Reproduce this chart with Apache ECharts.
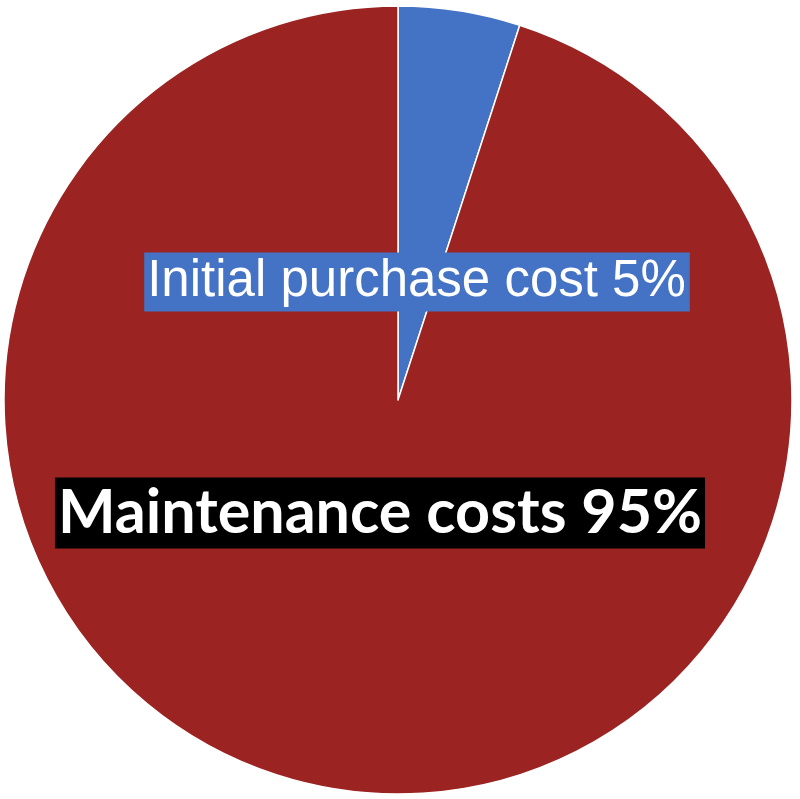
<!DOCTYPE html>
<html><head><meta charset="utf-8">
<script src="https://cdn.jsdelivr.net/npm/echarts@6/dist/echarts.min.js"></script>
<style>html,body{margin:0;padding:0;background:#fff}#c{width:800px;height:799px}</style>
</head><body><div id="c"></div>
<script>
const categories = ['Initial purchase cost', 'Maintenance costs'];
const values = [5, 95];
const colors = ['#4472C4', '#9B2322'];

const labelPos = [[417, 282], [380, 513]];
const chart = echarts.init(document.getElementById('c'));
chart.setOption({
  animation: false,
  series: [{
    type: 'pie',
    center: [398, 400],
    radius: 394,
    startAngle: 90,
    clockwise: true,
    data: categories.map((c, i) => ({
      name: c, value: values[i],
      itemStyle: { color: colors[i] },
      label: i === 0 ? {
        fontFamily: 'Liberation Sans', fontSize: 51, color: '#fff',
        backgroundColor: '#4472C4', padding: [2, 4, 2, 3], lineHeight: 55
      } : {
        fontFamily: 'Lato', fontWeight: 'bold', fontSize: 61, color: '#fff',
        backgroundColor: '#000', padding: [2, 3, 2, 3], lineHeight: 67
      }
    })),
    itemStyle: { borderColor: '#fff', borderWidth: 1.5 },
    label: { show: true, position: 'inside', formatter: p => p.name + ' ' + p.value + '%' },
    labelLine: { show: false },
    labelLayout: p => ({ x: labelPos[p.dataIndex][0], y: labelPos[p.dataIndex][1], align: 'center', verticalAlign: 'middle' })
  }]
});
</script></body></html>
